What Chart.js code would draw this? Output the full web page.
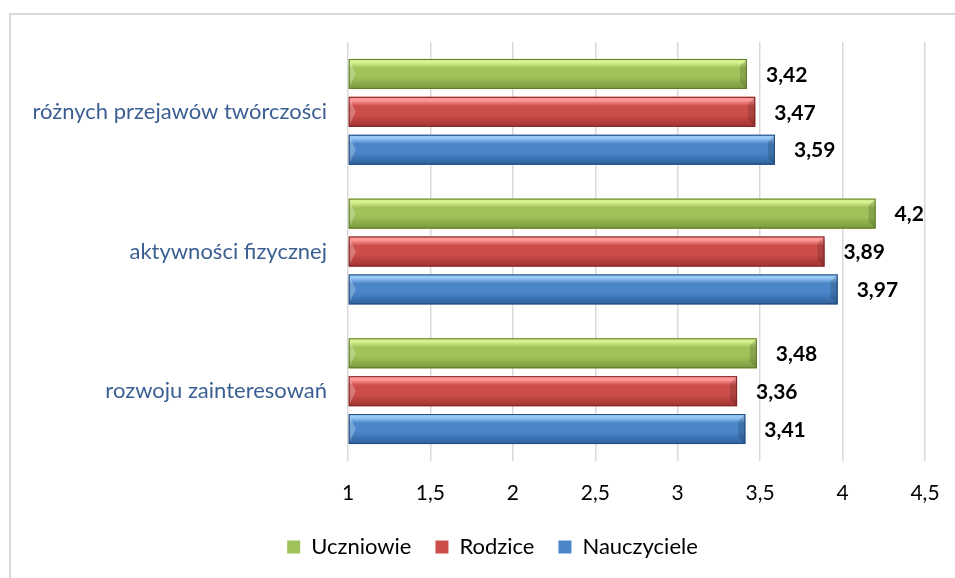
<!DOCTYPE html>
<html>
<head>
<meta charset="utf-8">
<script src="https://cdn.jsdelivr.net/npm/chart.js@4"></script>
<style>
    html, body { margin: 0; padding: 0; background: #fff; overflow: hidden; }
    #frame { position: absolute; left: 9px; top: 13px; width: 1000px; height: 1000px; border: 2px solid #d9d9d9; }
    #wrap { position: absolute; left: 0; top: 0; width: 955px; height: 578px; }
</style>
</head>
<body>
<div id="frame"></div>
<div id="wrap"><canvas id="chart"></canvas></div>
<script>
// dane wykresu
const categories = ['różnych przejawów twórczości', 'aktywności fizycznej', 'rozwoju zainteresowań'];
const seriesNames = ['Uczniowie', 'Rodzice', 'Nauczyciele'];
const uczniowie = [3.42, 4.2, 3.48];
const rodzice = [3.47, 3.89, 3.36];
const nauczyciele = [3.59, 3.97, 3.41];
const xTickValues = [1, 1.5, 2, 2.5, 3, 3.5, 4, 4.5];

// kolory: [jasny, srodek, ciemny, krawedz]
const palettes = [
    ['#d6f290', '#9fc25a', '#7a993d', '#5d7a2c'],
    ['#ff9896', '#cc4e4b', '#a13331', '#7c2624'],
    ['#98c8f5', '#4a86c8', '#2f5f9c', '#244b7a']
];

const fmt = (v) => String(v).replace('.', ',');
const FONT = 'Lato, "Open Sans", sans-serif';

// gradient na slupkach + etykiety z wartosciami
const barStylePlugin = {
    id: 'barStyle',
    afterDatasetsDraw(chart) {
        const ctx = chart.ctx;
        const baseX = chart.scales.x.getPixelForValue(chart.scales.x.min);
        chart.data.datasets.forEach((ds, di) => {
            const meta = chart.getDatasetMeta(di);
            if (meta.hidden) return;
            const pal = palettes[di];
            meta.data.forEach((el, i) => {
                const top = el.y - el.height / 2;
                const bottom = el.y + el.height / 2;
                const left = Math.max(Math.min(el.base, el.x), baseX);
                const right = el.x;
                const w = right - left;
                const h = el.height;
                const g = ctx.createLinearGradient(0, top, 0, bottom);
                g.addColorStop(0, pal[0]);
                g.addColorStop(0.12, pal[0]);
                g.addColorStop(0.3, pal[1]);
                g.addColorStop(0.6, pal[1]);
                g.addColorStop(1, pal[2]);
                ctx.save();
                ctx.fillStyle = g;
                ctx.fillRect(left, top, w, h);
                // skosy na koncach slupka
                const b = 7;
                ctx.fillStyle = 'rgba(255,255,255,0.25)';
                ctx.beginPath();
                ctx.moveTo(left, top); ctx.lineTo(left + b, el.y); ctx.lineTo(left, bottom); ctx.closePath();
                ctx.fill();
                ctx.fillStyle = 'rgba(0,0,0,0.15)';
                ctx.beginPath();
                ctx.moveTo(right, top); ctx.lineTo(right - b, top + b); ctx.lineTo(right - b, bottom - b); ctx.lineTo(right, bottom); ctx.closePath();
                ctx.fill();
                ctx.strokeStyle = pal[3];
                ctx.lineWidth = 1;
                ctx.strokeRect(left + 0.5, top + 0.5, w - 1, h - 1);
                ctx.font = 'bold 21px ' + FONT;
                ctx.fillStyle = '#000';
                ctx.textAlign = 'left';
                ctx.textBaseline = 'middle';
                ctx.fillText(fmt(ds.data[i]), el.x + 19, el.y + 1);
                ctx.restore();
            });
        });
    }
};

// legenda przesunieta w prawo jak w oryginale
const legendShift = {
    id: 'legendShift',
    afterLayout(chart) {
        const lg = chart.legend;
        if (!lg) return;
        lg.left += 30;
        lg.right += 30;
    }
};

new Chart(document.getElementById('chart'), {
    type: 'bar',
    data: {
        labels: categories,
        datasets: [
            { label: seriesNames[0], data: uczniowie, backgroundColor: palettes[0][1] },
            { label: seriesNames[1], data: rodzice, backgroundColor: palettes[1][1] },
            { label: seriesNames[2], data: nauczyciele, backgroundColor: palettes[2][1] }
        ]
    },
    options: {
        indexAxis: 'y',
        responsive: true,
        maintainAspectRatio: false,
        animation: false,
        base: 1,
        categoryPercentage: 0.814,
        barPercentage: 0.79,
        layout: { padding: { top: 42, right: 30, bottom: 10, left: 0 } },
        scales: {
            x: {
                min: 1,
                max: 4.5,
                afterBuildTicks: (scale) => { scale.ticks = xTickValues.map(v => ({ value: v })); },
                afterFit: (scale) => { scale.height = 51; scale.paddingRight = 0; scale.paddingLeft = 0; },
                ticks: {
                    callback: (v) => fmt(v),
                    font: { family: FONT, size: 21 },
                    color: '#000',
                    padding: 20,
                    maxRotation: 0
                },
                grid: { color: '#d9d9d9', lineWidth: 1.5, drawTicks: false },
                border: { display: false }
            },
            y: {
                afterFit: (scale) => { scale.width = 348; },
                ticks: {
                    font: { family: FONT, size: 22 },
                    color: '#3c5f93',
                    padding: 21
                },
                grid: { display: false, drawTicks: false },
                border: { display: false }
            }
        },
        plugins: {
            legend: {
                position: 'bottom',
                labels: {
                    font: { family: FONT, size: 22 },
                    color: '#000',
                    boxWidth: 13,
                    boxHeight: 13,
                    padding: 24
                }
            },
            tooltip: { enabled: false }
        }
    },
    plugins: [barStylePlugin, legendShift]
});
</script>
</body>
</html>
